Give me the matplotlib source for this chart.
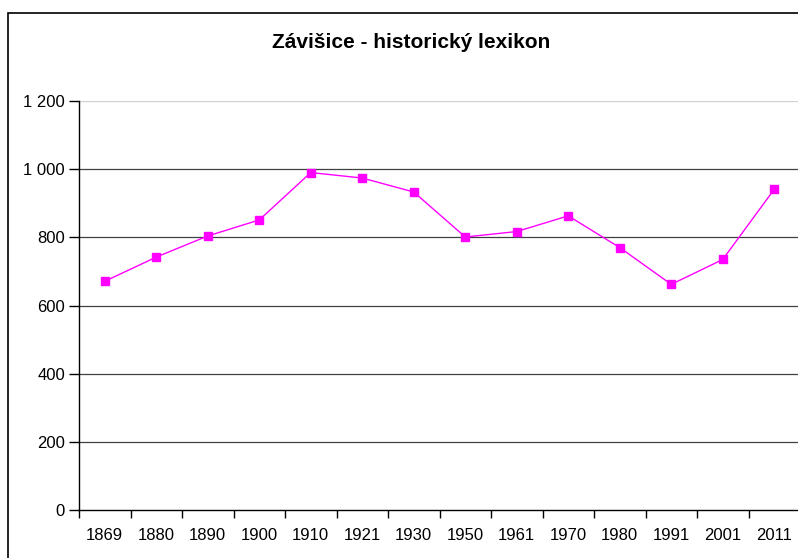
import matplotlib
matplotlib.use("Agg")
import matplotlib.pyplot as plt
from matplotlib.patches import Rectangle
from matplotlib.ticker import FixedLocator, FuncFormatter

years = ["1869", "1880", "1890", "1900", "1910", "1921", "1930",
         "1950", "1961", "1970", "1980", "1991", "2001", "2011"]
population = [671, 742, 804, 851, 990, 974, 933, 801, 817, 863, 770, 662, 735, 941]
y_ticks = [0, 200, 400, 600, 800, 1000, 1200]
title = "Závišice - historický lexikon"

plt.rcParams['font.family'] = ['Liberation Sans', 'DejaVu Sans']

W, H = 798, 558
fig = plt.figure(figsize=(W / 100, H / 100), dpi=100)

# outer chart frame
fig.patches.append(Rectangle((8 / W, -0.1), 1.2, 1 - 12.5 / H + 0.1,
                             transform=fig.transFigure, fill=False,
                             edgecolor='black', linewidth=1.2))

left, right, top, bottom = 79, 800, 101, 510
ax = fig.add_axes([left / W, (H - bottom) / H, (right - left) / W, (bottom - top) / H])

x = list(range(len(years)))
ax.plot(x, population, color='#FF00FF', linewidth=1.0, marker='s',
        markersize=5.5, markerfacecolor='#FF00FF', markeredgecolor='#FF00FF')

ax.set_xlim(-0.5, len(years) - 0.5)
ax.set_ylim(0, 1200)

for v in y_ticks[1:]:
    c = '#d0d0d0' if v == 1200 else '#404040'
    ax.axhline(v, color=c, linewidth=0.9, zorder=0)

ax.set_yticks(y_ticks)
ax.yaxis.set_major_formatter(FuncFormatter(lambda v, p: f"{int(v):,}".replace(",", " ")))
ax.set_xticks(x)
ax.set_xticklabels(years)
ax.xaxis.set_minor_locator(FixedLocator([i - 0.5 for i in range(len(years) + 1)]))
ax.tick_params(axis='x', which='major', length=0, pad=13, labelsize=12)
ax.tick_params(axis='x', which='minor', length=6, width=1, direction='out', color='black')
ax.tick_params(axis='y', length=7, width=1, pad=3, labelsize=12)

for s in ['top', 'right']:
    ax.spines[s].set_visible(False)
for s in ['left', 'bottom']:
    ax.spines[s].set_color('black')
    ax.spines[s].set_linewidth(1.0)

fig.text(411 / W, 1 - 43 / H, title, ha='center', va='center',
         fontsize=15, fontweight='bold')

fig.savefig("out.png", dpi=100)
